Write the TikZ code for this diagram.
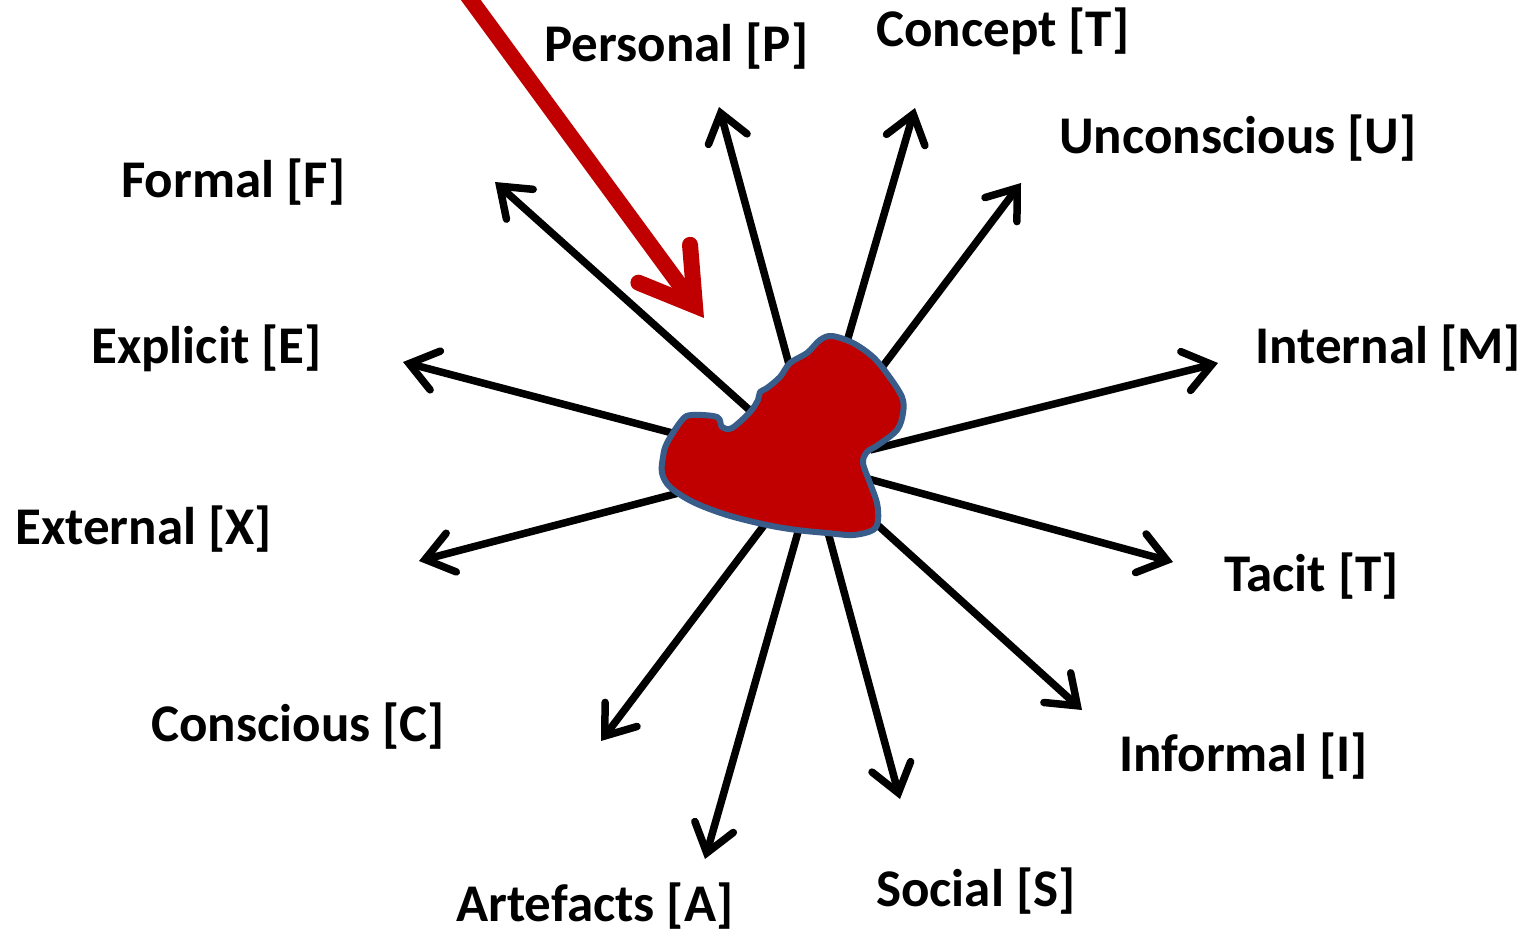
\documentclass[tikz,border=0pt]{standalone}
\usepackage{fontspec}
\setmainfont{Carlito}
\usetikzlibrary{arrows.meta}
\definecolor{blobred}{RGB}{192,0,0}
\definecolor{blobblue}{RGB}{56,93,138}
\definecolor{arrred}{RGB}{192,0,0}
\tikzset{
  lbl/.style={anchor=base west,inner sep=0pt,font=\fontsize{53}{60}\selectfont\bfseries},
  axisarrow/.style={line width=7.5pt,black,-{Straight Barb[length=27pt,width=40pt,line cap=round,line join=miter]}},
  redarrow/.style={line width=16pt,arrred,-{Straight Barb[length=52pt,width=64pt,line cap=round,line join=miter]}},
  blobstyle/.style={fill=blobred,draw=blobblue,line width=6pt,line join=round}
}
\begin{document}
\begin{tikzpicture}[x=1pt,y=-1pt]
\useasboundingbox (0,0) rectangle (1534,932);
\fill[white] (0,0) rectangle (1534,932);
% labels
\node[lbl] (lP) at (544,61) {Personal [P]};
\node[lbl] (lT1) at (876,46) {Concept [T]};
\node[lbl] (lU) at (1059,153) {Unconscious [U]};
\node[lbl] (lF) at (121,197) {Formal [F]};
\node[lbl] (lE) at (91,363) {Explicit [E]};
\node[lbl] (lM) at (1255,363) {Internal [M]};
\node[lbl] (lX) at (15,544) {External [X]};
\node[lbl] (lT2) at (1224,591) {Tacit [T]};
\node[lbl] (lC) at (151,741) {Conscious [C]};
\node[lbl] (lI) at (1119,771) {Informal [I]};
\node[lbl] (lS) at (876,906) {Social [S]};
\node[lbl] (lA) at (456,921) {Artefacts [A]};
% arrow end points
\coordinate (sP) at (790,368);  \coordinate (tP) at (719,107);
\coordinate (sT1) at (846,345); \coordinate (tT1) at (915,108);
\coordinate (sU) at (880,370);  \coordinate (tU) at (1021,183);
\coordinate (sM) at (870,450);  \coordinate (tM) at (1218,363);
\coordinate (sT2) at (865,478); \coordinate (tT2) at (1173,562);
\coordinate (sI) at (872,520);  \coordinate (tI) at (1082,710);
\coordinate (sS) at (826,525);  \coordinate (tS) at (900,799);
\coordinate (sA) at (800,525);  \coordinate (tA) at (705,859);
\coordinate (sC) at (768,520);  \coordinate (tC) at (601,741);
\coordinate (sX) at (690,490);  \coordinate (tX) at (419,561);
\coordinate (sE) at (680,435);  \coordinate (tE) at (403,362);
\coordinate (sF) at (755,415);  \coordinate (tF) at (495,182);
\foreach \k in {P,T1,U,M,T2,I,S,A,C,X,E,F}{
  \draw[axisarrow] (s\k) -- (t\k);
}
% blob
\path[blobstyle] plot[smooth cycle,tension=0.55] coordinates {
 (832,336) (853,343) (873,357) (888,375) (902,397) (903,413) (897,430)
 (878,445) (867,452) (863,463) (870,483) (877,503) (878,520) (873,530)
 (853,535) (827,533) (797,530) (767,525) (727,515) (693,502) (670,487)
 (662,473) (663,457) (667,443) (682,420) (692,415) (717,417) (722,427)
 (732,428) (750,412) (758,400) (760,392) (767,388) (780,377) (790,363)
 (807,353) (820,340)};
% red arrow
\coordinate (rS) at (462,-12);
\coordinate (rT) at (704,318);
\draw[redarrow] (rS) -- (rT);
\end{tikzpicture}
\end{document}
